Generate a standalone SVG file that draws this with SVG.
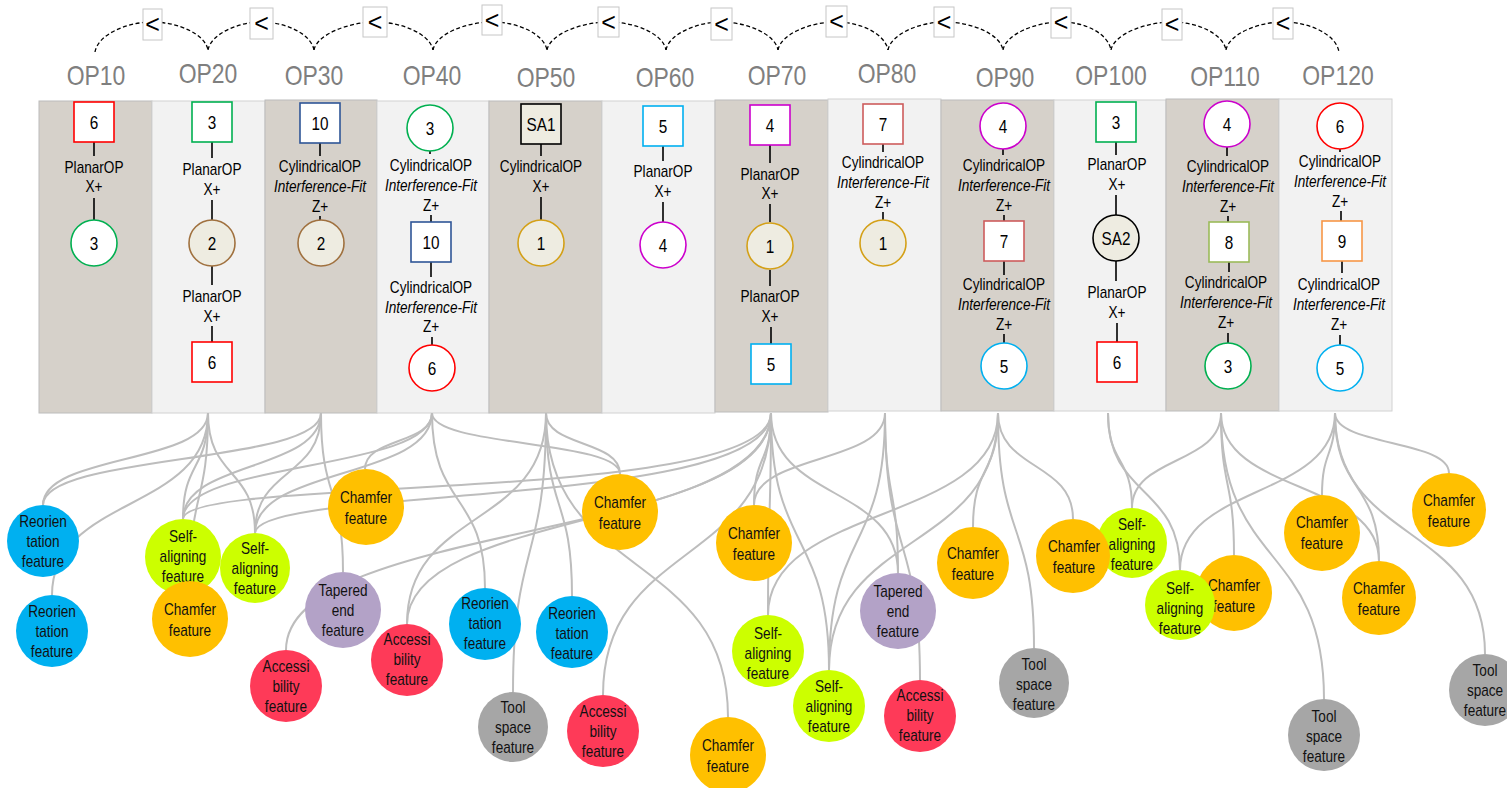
<svg xmlns="http://www.w3.org/2000/svg" width="1507" height="788" viewBox="0 0 1507 788">
<style>
text{font-family:"Liberation Sans",Arial,sans-serif;text-anchor:middle;fill:#000}
.op{font-size:28px;fill:#7f7f7f}
.t{font-size:16px}
.i{font-style:italic}
.n{font-size:18px}
.ft{font-size:16px;fill:#111}
.lt{font-size:25px}
.pt{fill:#d6d1ca;stroke:#bcbcbc;stroke-width:1}
.pl{fill:#f2f2f2;stroke:#d2d2d2;stroke-width:1}
.ln{stroke:#000;stroke-width:1.6;fill:none}
.arc{stroke:#000;stroke-width:1.3;stroke-dasharray:4 2.5;fill:none}
.cn{stroke:#bdbdbd;stroke-width:2;fill:none}
.bx{fill:#fff;stroke:#c6c6c6;stroke-width:1}
.nd{stroke-width:1.6}
.w{fill:#fff}
.cream{fill:#eeece1}
.fb{fill:#00b0f0}
.fl{fill:#ccff00}
.fo{fill:#ffc000}
.fp{fill:#b3a2c7}
.fr{fill:#fe3a58}
.fg{fill:#a6a6a6}
</style>

<g id="panels">
<rect class="pt" x="39" y="101" width="113" height="312"/>
<rect class="pl" x="152" y="101" width="113" height="312"/>
<rect class="pt" x="265" y="100" width="112" height="313"/>
<rect class="pl" x="377" y="101" width="112" height="312"/>
<rect class="pt" x="489" y="101" width="113" height="312"/>
<rect class="pl" x="602" y="101" width="113" height="312"/>
<rect class="pt" x="715" y="100" width="113" height="312"/>
<rect class="pl" x="828" y="99" width="113" height="312"/>
<rect class="pt" x="941" y="100" width="113" height="311"/>
<rect class="pl" x="1054" y="100" width="112" height="311"/>
<rect class="pt" x="1166" y="99" width="113" height="312"/>
<rect class="pl" x="1279" y="99" width="113" height="312"/>
</g>

<g id="connectors">
<path class="arc" d="M95 52 C98 34 128 22 152 22 C178 22 205 34 208 50"/>
<path class="arc" d="M208 50 C211 34 238 22 261 22 C286 22 311 34 314 50"/>
<path class="arc" d="M314 50 C317 34 350 22 375 22 C402 22 430 34 433 50"/>
<path class="arc" d="M433 50 C436 34 466 22 492 22 C518 22 544 34 547 50"/>
<path class="arc" d="M547 50 C550 34 582 22 608 22 C636 22 663 34 666 50"/>
<path class="arc" d="M666 50 C669 34 697 22 721 22 C747 22 775 34 778 50"/>
<path class="arc" d="M778 50 C781 34 810 22 836 22 C861 22 885 34 888 50"/>
<path class="arc" d="M888 50 C891 34 920 22 944 22 C972 22 1000 34 1003 50"/>
<path class="arc" d="M1003 50 C1006 34 1036 22 1061 22 C1086 22 1108 34 1111 50"/>
<path class="arc" d="M1111 50 C1114 34 1146 22 1172 22 C1198 22 1223 34 1226 50"/>
<path class="arc" d="M1226 50 C1229 34 1258 22 1283 22 C1309 22 1336 34 1339 52"/>
<path class="ln" d="M94 142V156M94 198V220"/>
<path class="ln" d="M212 142V158M212 200V220M212 266V285M212 326V342"/>
<path class="ln" d="M320 143V156M320 216V220"/>
<path class="ln" d="M430 151V154M431 215V222M431 262V277M432 337V345"/>
<path class="ln" d="M541 144V156M541 197V220"/>
<path class="ln" d="M663 146V161M663 202V222"/>
<path class="ln" d="M770 145V163M770 204V222M770 270V286M771 327V344"/>
<path class="ln" d="M883 144V152M883 212V220"/>
<path class="ln" d="M1003 149V155M1004 215V221M1004 261V275M1004 334V343"/>
<path class="ln" d="M1116 142V155M1116 195V215M1116 261V281M1117 323V342"/>
<path class="ln" d="M1227 147V156M1228 216V222M1229 262V272M1228 333V343"/>
<path class="ln" d="M1340 149V152M1341 211V221M1342 261V273M1340 335V345"/>
<path class="cn" d="M208 413C208 464 43 454 43 505"/>
<path class="cn" d="M208 413C208 513 52 495 52 595"/>
<path class="cn" d="M208 413C208 471 183 461 183 519"/>
<path class="cn" d="M208 413C208 479 255 467 255 533"/>
<path class="cn" d="M208 413C208 505 190 489 190 581"/>
<path class="cn" d="M321 413C321 464 43 454 43 505"/>
<path class="cn" d="M321 413C321 471 183 461 183 519"/>
<path class="cn" d="M321 413C321 479 255 467 255 533"/>
<path class="cn" d="M321 413C321 500 343 485 343 572"/>
<path class="cn" d="M432 413C432 444 365 438 365 469"/>
<path class="cn" d="M432 413C432 509 485 492 485 588"/>
<path class="cn" d="M432 413C432 447 620 440 620 474"/>
<path class="cn" d="M432 413C432 471 183 461 183 519"/>
<path class="cn" d="M432 413C432 479 255 467 255 533"/>
<path class="cn" d="M546 413C546 447 620 440 620 474"/>
<path class="cn" d="M546 413C546 514 572 495 572 596"/>
<path class="cn" d="M546 413C546 566 513 539 513 692"/>
<path class="cn" d="M546 413C546 580 728 550 728 717"/>
<path class="cn" d="M546 413C546 529 407 508 407 624"/>
<path class="cn" d="M771 413C771 464 754 454 754 505"/>
<path class="cn" d="M771 413C771 524 768 504 768 615"/>
<path class="cn" d="M771 413C771 554 829 529 829 670"/>
<path class="cn" d="M771 413C771 543 286 520 286 650"/>
<path class="cn" d="M771 413C771 529 407 508 407 624"/>
<path class="cn" d="M771 413C771 568 603 540 603 695"/>
<path class="cn" d="M771 413C771 505 183 475 183 519"/>
<path class="cn" d="M771 413C771 510 255 485 255 533"/>
<path class="cn" d="M771 413C771 501 898 485 898 573"/>
<path class="cn" d="M885 413C885 501 898 485 898 573"/>
<path class="cn" d="M885 413C885 560 920 533 920 680"/>
<path class="cn" d="M885 413C885 554 829 529 829 670"/>
<path class="cn" d="M885 413C885 464 754 454 754 505"/>
<path class="cn" d="M998 413C998 476 973 464 973 527"/>
<path class="cn" d="M998 413C998 471 1073 461 1073 519"/>
<path class="cn" d="M998 413C998 542 1034 519 1034 648"/>
<path class="cn" d="M998 413C998 524 768 504 768 615"/>
<path class="cn" d="M998 413C998 554 829 529 829 670"/>
<path class="cn" d="M1108 413C1108 499 1180 484 1180 570"/>
<path class="cn" d="M1108 413C1108 465 1132 456 1132 508"/>
<path class="cn" d="M1221 413C1221 465 1132 456 1132 508"/>
<path class="cn" d="M1221 413C1221 491 1234 477 1234 555"/>
<path class="cn" d="M1221 413C1221 570 1324 542 1324 699"/>
<path class="cn" d="M1221 413C1221 494 1379 480 1379 561"/>
<path class="cn" d="M1335 413C1335 458 1322 450 1322 495"/>
<path class="cn" d="M1335 413C1335 446 1449 440 1449 473"/>
<path class="cn" d="M1335 413C1335 546 1485 521 1485 654"/>
<path class="cn" d="M1335 413C1335 499 1180 484 1180 570"/>
<path class="cn" d="M1335 413C1335 494 1379 480 1379 561"/>
</g>

<g id="seq-labels">
<rect class="bx" x="143" y="9" width="19" height="31"/><text class="lt" x="152.5" y="33">&lt;</text>
<rect class="bx" x="250" y="8" width="23" height="31"/><text class="lt" x="261.5" y="32">&lt;</text>
<rect class="bx" x="363" y="7" width="24" height="30"/><text class="lt" x="375" y="31">&lt;</text>
<rect class="bx" x="482" y="5" width="20" height="30"/><text class="lt" x="492" y="29">&lt;</text>
<rect class="bx" x="598" y="7" width="21" height="30"/><text class="lt" x="608.5" y="31">&lt;</text>
<rect class="bx" x="711" y="8" width="21" height="32"/><text class="lt" x="721.5" y="33">&lt;</text>
<rect class="bx" x="826" y="6" width="21" height="31"/><text class="lt" x="836.5" y="30">&lt;</text>
<rect class="bx" x="934" y="7" width="20" height="30"/><text class="lt" x="944" y="31">&lt;</text>
<rect class="bx" x="1051" y="8" width="20" height="30"/><text class="lt" x="1061" y="31">&lt;</text>
<rect class="bx" x="1162" y="9" width="20" height="31"/><text class="lt" x="1172" y="33">&lt;</text>
<rect class="bx" x="1273" y="8" width="20" height="31"/><text class="lt" x="1283" y="32">&lt;</text>
</g>

<g id="OP10">
<text class="op" transform="translate(96 85) scale(0.82 1)">OP10</text>
<g id="op10-n1"><rect class="w nd" x="74" y="102" width="40" height="40" stroke="#ff0000"/><text class="n" transform="translate(94 128.5) scale(0.85 1)">6</text></g>
<text class="t" transform="translate(94 173) scale(0.85 1)"><tspan x="0">PlanarOP</tspan><tspan x="0" dy="19">X+</tspan></text>
<g id="op10-n2"><circle class="w nd" cx="94" cy="243" r="23" stroke="#00b050"/><text class="n" transform="translate(94 249.5) scale(0.85 1)">3</text></g>
</g>

<g id="OP20">
<text class="op" transform="translate(208 83) scale(0.82 1)">OP20</text>
<g id="op20-n1"><rect class="w nd" x="192" y="102" width="40" height="40" stroke="#00b050"/><text class="n" transform="translate(212 128.5) scale(0.85 1)">3</text></g>
<text class="t" transform="translate(212 175) scale(0.85 1)"><tspan x="0">PlanarOP</tspan><tspan x="0" dy="20">X+</tspan></text>
<g id="op20-n2"><circle class="cream nd" cx="212" cy="243" r="23" stroke="#a0713f"/><text class="n" transform="translate(212 249.5) scale(0.85 1)">2</text></g>
<text class="t" transform="translate(212 302) scale(0.85 1)"><tspan x="0">PlanarOP</tspan><tspan x="0" dy="20">X+</tspan></text>
<g id="op20-n3"><rect class="w nd" x="192" y="342" width="40" height="40" stroke="#ff0000"/><text class="n" transform="translate(212 368.5) scale(0.85 1)">6</text></g>
</g>

<g id="OP30">
<text class="op" transform="translate(314 85) scale(0.82 1)">OP30</text>
<g id="op30-n1"><rect class="w nd" x="300" y="103" width="40" height="40" stroke="#2f5597"/><text class="n" transform="translate(320 129.5) scale(0.85 1)">10</text></g>
<text class="t" transform="translate(320 172) scale(0.85 1)"><tspan x="0">CylindricalOP</tspan><tspan x="0" dy="20" class="i">Interference-Fit</tspan><tspan x="0" dy="20">Z+</tspan></text>
<g id="op30-n2"><circle class="cream nd" cx="321" cy="243" r="23" stroke="#a0713f"/><text class="n" transform="translate(321 249.5) scale(0.85 1)">2</text></g>
</g>

<g id="OP40">
<text class="op" transform="translate(432 85) scale(0.82 1)">OP40</text>
<g id="op40-n1"><circle class="w nd" cx="430" cy="128" r="23" stroke="#00b050"/><text class="n" transform="translate(430 134.5) scale(0.85 1)">3</text></g>
<text class="t" transform="translate(431 171) scale(0.85 1)"><tspan x="0">CylindricalOP</tspan><tspan x="0" dy="20" class="i">Interference-Fit</tspan><tspan x="0" dy="20">Z+</tspan></text>
<g id="op40-n2"><rect class="w nd" x="411" y="222" width="40" height="40" stroke="#2f5597"/><text class="n" transform="translate(431 248.5) scale(0.85 1)">10</text></g>
<text class="t" transform="translate(431 293) scale(0.85 1)"><tspan x="0">CylindricalOP</tspan><tspan x="0" dy="20" class="i">Interference-Fit</tspan><tspan x="0" dy="19">Z+</tspan></text>
<g id="op40-n3"><circle class="w nd" cx="432" cy="368" r="23" stroke="#ff0000"/><text class="n" transform="translate(432 374.5) scale(0.85 1)">6</text></g>
</g>

<g id="OP50">
<text class="op" transform="translate(546 87) scale(0.82 1)">OP50</text>
<g id="op50-n1"><rect class="cream nd" x="521" y="104" width="40" height="40" stroke="#000"/><text class="n" transform="translate(541 130.5) scale(0.85 1)">SA1</text></g>
<text class="t" transform="translate(541 172) scale(0.85 1)"><tspan x="0">CylindricalOP</tspan><tspan x="0" dy="20">X+</tspan></text>
<g id="op50-n2"><circle class="cream nd" cx="541" cy="243" r="23" stroke="#d4a017"/><text class="n" transform="translate(541 249.5) scale(0.85 1)">1</text></g>
</g>

<g id="OP60">
<text class="op" transform="translate(665 87) scale(0.82 1)">OP60</text>
<g id="op60-n1"><rect class="w nd" x="643" y="106" width="40" height="40" stroke="#00b0f0"/><text class="n" transform="translate(663 132.5) scale(0.85 1)">5</text></g>
<text class="t" transform="translate(663 177) scale(0.85 1)"><tspan x="0">PlanarOP</tspan><tspan x="0" dy="20">X+</tspan></text>
<g id="op60-n2"><circle class="w nd" cx="663" cy="245" r="23" stroke="#cc00cc"/><text class="n" transform="translate(663 251.5) scale(0.85 1)">4</text></g>
</g>

<g id="OP70">
<text class="op" transform="translate(777 85) scale(0.82 1)">OP70</text>
<g id="op70-n1"><rect class="w nd" x="750" y="105" width="40" height="40" stroke="#cc00cc"/><text class="n" transform="translate(770 131.5) scale(0.85 1)">4</text></g>
<text class="t" transform="translate(770 180) scale(0.85 1)"><tspan x="0">PlanarOP</tspan><tspan x="0" dy="19">X+</tspan></text>
<g id="op70-n2"><circle class="cream nd" cx="770" cy="246" r="23" stroke="#d4a017"/><text class="n" transform="translate(770 252.5) scale(0.85 1)">1</text></g>
<text class="t" transform="translate(770 302) scale(0.85 1)"><tspan x="0">PlanarOP</tspan><tspan x="0" dy="20">X+</tspan></text>
<g id="op70-n3"><rect class="w nd" x="751" y="344" width="40" height="40" stroke="#00b0f0"/><text class="n" transform="translate(771 370.5) scale(0.85 1)">5</text></g>
</g>

<g id="OP80">
<text class="op" transform="translate(887 83) scale(0.82 1)">OP80</text>
<g id="op80-n1"><rect class="w nd" x="863" y="104" width="40" height="40" stroke="#cd5c5c"/><text class="n" transform="translate(883 130.5) scale(0.85 1)">7</text></g>
<text class="t" transform="translate(883 168) scale(0.85 1)"><tspan x="0">CylindricalOP</tspan><tspan x="0" dy="20" class="i">Interference-Fit</tspan><tspan x="0" dy="20">Z+</tspan></text>
<g id="op80-n2"><circle class="cream nd" cx="883" cy="243" r="23" stroke="#d4a017"/><text class="n" transform="translate(883 249.5) scale(0.85 1)">1</text></g>
</g>

<g id="OP90">
<text class="op" transform="translate(1005 87) scale(0.82 1)">OP90</text>
<g id="op90-n1"><circle class="w nd" cx="1003" cy="126" r="23" stroke="#cc00cc"/><text class="n" transform="translate(1003 132.5) scale(0.85 1)">4</text></g>
<text class="t" transform="translate(1004 171) scale(0.85 1)"><tspan x="0">CylindricalOP</tspan><tspan x="0" dy="20" class="i">Interference-Fit</tspan><tspan x="0" dy="20">Z+</tspan></text>
<g id="op90-n2"><rect class="w nd" x="984" y="221" width="40" height="40" stroke="#cd5c5c"/><text class="n" transform="translate(1004 247.5) scale(0.85 1)">7</text></g>
<text class="t" transform="translate(1004 290) scale(0.85 1)"><tspan x="0">CylindricalOP</tspan><tspan x="0" dy="20" class="i">Interference-Fit</tspan><tspan x="0" dy="20">Z+</tspan></text>
<g id="op90-n3"><circle class="w nd" cx="1004" cy="366" r="23" stroke="#00b0f0"/><text class="n" transform="translate(1004 372.5) scale(0.85 1)">5</text></g>
</g>

<g id="OP100">
<text class="op" transform="translate(1111 85) scale(0.82 1)">OP100</text>
<g id="op100-n1"><rect class="w nd" x="1096" y="102" width="40" height="40" stroke="#00b050"/><text class="n" transform="translate(1116 128.5) scale(0.85 1)">3</text></g>
<text class="t" transform="translate(1117 170) scale(0.85 1)"><tspan x="0">PlanarOP</tspan><tspan x="0" dy="20">X+</tspan></text>
<g id="op100-n2"><circle class="cream nd" cx="1116" cy="238" r="23" stroke="#000"/><text class="n" transform="translate(1116 244.5) scale(0.85 1)">SA2</text></g>
<text class="t" transform="translate(1117 298) scale(0.85 1)"><tspan x="0">PlanarOP</tspan><tspan x="0" dy="20">X+</tspan></text>
<g id="op100-n3"><rect class="w nd" x="1097" y="342" width="40" height="40" stroke="#ff0000"/><text class="n" transform="translate(1117 368.5) scale(0.85 1)">6</text></g>
</g>

<g id="OP110">
<text class="op" transform="translate(1225 86) scale(0.82 1)">OP110</text>
<g id="op110-n1"><circle class="w nd" cx="1227" cy="124" r="23" stroke="#cc00cc"/><text class="n" transform="translate(1227 130.5) scale(0.85 1)">4</text></g>
<text class="t" transform="translate(1228 172) scale(0.85 1)"><tspan x="0">CylindricalOP</tspan><tspan x="0" dy="20" class="i">Interference-Fit</tspan><tspan x="0" dy="20">Z+</tspan></text>
<g id="op110-n2"><rect class="w nd" x="1209" y="222" width="40" height="40" stroke="#9bbb59"/><text class="n" transform="translate(1229 248.5) scale(0.85 1)">8</text></g>
<text class="t" transform="translate(1226 288) scale(0.85 1)"><tspan x="0">CylindricalOP</tspan><tspan x="0" dy="20" class="i">Interference-Fit</tspan><tspan x="0" dy="20">Z+</tspan></text>
<g id="op110-n3"><circle class="w nd" cx="1228" cy="366" r="23" stroke="#00b050"/><text class="n" transform="translate(1228 372.5) scale(0.85 1)">3</text></g>
</g>

<g id="OP120">
<text class="op" transform="translate(1338 85) scale(0.82 1)">OP120</text>
<g id="op120-n1"><circle class="w nd" cx="1340" cy="126" r="23" stroke="#ff0000"/><text class="n" transform="translate(1340 132.5) scale(0.85 1)">6</text></g>
<text class="t" transform="translate(1340 167) scale(0.85 1)"><tspan x="0">CylindricalOP</tspan><tspan x="0" dy="20" class="i">Interference-Fit</tspan><tspan x="0" dy="20">Z+</tspan></text>
<g id="op120-n2"><rect class="w nd" x="1322" y="221" width="40" height="40" stroke="#f79646"/><text class="n" transform="translate(1342 247.5) scale(0.85 1)">9</text></g>
<text class="t" transform="translate(1339 290) scale(0.85 1)"><tspan x="0">CylindricalOP</tspan><tspan x="0" dy="20" class="i">Interference-Fit</tspan><tspan x="0" dy="20">Z+</tspan></text>
<g id="op120-n3"><circle class="w nd" cx="1340" cy="368" r="23" stroke="#00b0f0"/><text class="n" transform="translate(1340 374.5) scale(0.85 1)">5</text></g>
</g>

<g id="f1"><circle class="fb" cx="43" cy="541" r="36"/><text class="ft" transform="translate(43 527) scale(0.85 1)"><tspan x="0">Reorien</tspan><tspan x="0" dy="20">tation</tspan><tspan x="0" dy="20">feature</tspan></text></g>
<g id="f2"><circle class="fb" cx="52" cy="631" r="36"/><text class="ft" transform="translate(52 617) scale(0.85 1)"><tspan x="0">Reorien</tspan><tspan x="0" dy="20">tation</tspan><tspan x="0" dy="20">feature</tspan></text></g>
<g id="f3"><circle class="fl" cx="183" cy="557" r="38"/><text class="ft" transform="translate(183 542) scale(0.85 1)"><tspan x="0">Self-</tspan><tspan x="0" dy="20">aligning</tspan><tspan x="0" dy="20">feature</tspan></text></g>
<g id="f4"><circle class="fo" cx="190" cy="619" r="38"/><text class="ft" transform="translate(190 615) scale(0.85 1)"><tspan x="0">Chamfer</tspan><tspan x="0" dy="21">feature</tspan></text></g>
<g id="f5"><circle class="fl" cx="255" cy="568" r="35"/><text class="ft" transform="translate(255 554) scale(0.85 1)"><tspan x="0">Self-</tspan><tspan x="0" dy="20">aligning</tspan><tspan x="0" dy="20">feature</tspan></text></g>
<g id="f6"><circle class="fo" cx="366" cy="507" r="38"/><text class="ft" transform="translate(366 503) scale(0.85 1)"><tspan x="0">Chamfer</tspan><tspan x="0" dy="21">feature</tspan></text></g>
<g id="f7"><circle class="fp" cx="343" cy="610" r="38"/><text class="ft" transform="translate(343 596) scale(0.85 1)"><tspan x="0">Tapered</tspan><tspan x="0" dy="20">end</tspan><tspan x="0" dy="20">feature</tspan></text></g>
<g id="f8"><circle class="fr" cx="286" cy="686" r="36"/><text class="ft" transform="translate(286 672) scale(0.85 1)"><tspan x="0">Accessi</tspan><tspan x="0" dy="20">bility</tspan><tspan x="0" dy="20">feature</tspan></text></g>
<g id="f9"><circle class="fr" cx="407" cy="660" r="36"/><text class="ft" transform="translate(407 645) scale(0.85 1)"><tspan x="0">Accessi</tspan><tspan x="0" dy="20">bility</tspan><tspan x="0" dy="20">feature</tspan></text></g>
<g id="f10"><circle class="fb" cx="485" cy="624" r="36"/><text class="ft" transform="translate(485 609) scale(0.85 1)"><tspan x="0">Reorien</tspan><tspan x="0" dy="20">tation</tspan><tspan x="0" dy="20">feature</tspan></text></g>
<g id="f11"><circle class="fo" cx="620" cy="512" r="38"/><text class="ft" transform="translate(620 508) scale(0.85 1)"><tspan x="0">Chamfer</tspan><tspan x="0" dy="21">feature</tspan></text></g>
<g id="f12"><circle class="fb" cx="572" cy="632" r="36"/><text class="ft" transform="translate(572 619) scale(0.85 1)"><tspan x="0">Reorien</tspan><tspan x="0" dy="20">tation</tspan><tspan x="0" dy="20">feature</tspan></text></g>
<g id="f13"><circle class="fg" cx="513" cy="727" r="35"/><text class="ft" transform="translate(513 713) scale(0.85 1)"><tspan x="0">Tool</tspan><tspan x="0" dy="20">space</tspan><tspan x="0" dy="20">feature</tspan></text></g>
<g id="f14"><circle class="fr" cx="603" cy="731" r="36"/><text class="ft" transform="translate(603 717) scale(0.85 1)"><tspan x="0">Accessi</tspan><tspan x="0" dy="20">bility</tspan><tspan x="0" dy="20">feature</tspan></text></g>
<g id="f15"><circle class="fo" cx="728" cy="755" r="38"/><text class="ft" transform="translate(728 751) scale(0.85 1)"><tspan x="0">Chamfer</tspan><tspan x="0" dy="21">feature</tspan></text></g>
<g id="f16"><circle class="fo" cx="754" cy="543" r="38"/><text class="ft" transform="translate(754 539) scale(0.85 1)"><tspan x="0">Chamfer</tspan><tspan x="0" dy="21">feature</tspan></text></g>
<g id="f17"><circle class="fl" cx="768" cy="651" r="36"/><text class="ft" transform="translate(768 639) scale(0.85 1)"><tspan x="0">Self-</tspan><tspan x="0" dy="20">aligning</tspan><tspan x="0" dy="20">feature</tspan></text></g>
<g id="f18"><circle class="fl" cx="829" cy="706" r="36"/><text class="ft" transform="translate(829 692) scale(0.85 1)"><tspan x="0">Self-</tspan><tspan x="0" dy="20">aligning</tspan><tspan x="0" dy="20">feature</tspan></text></g>
<g id="f19"><circle class="fp" cx="898" cy="611" r="38"/><text class="ft" transform="translate(898 597) scale(0.85 1)"><tspan x="0">Tapered</tspan><tspan x="0" dy="20">end</tspan><tspan x="0" dy="20">feature</tspan></text></g>
<g id="f20"><circle class="fr" cx="920" cy="716" r="36"/><text class="ft" transform="translate(920 701) scale(0.85 1)"><tspan x="0">Accessi</tspan><tspan x="0" dy="20">bility</tspan><tspan x="0" dy="20">feature</tspan></text></g>
<g id="f21"><circle class="fo" cx="973" cy="563" r="36"/><text class="ft" transform="translate(973 559) scale(0.85 1)"><tspan x="0">Chamfer</tspan><tspan x="0" dy="21">feature</tspan></text></g>
<g id="f23"><circle class="fl" cx="1132" cy="543" r="35"/><text class="ft" transform="translate(1132 530) scale(0.85 1)"><tspan x="0">Self-</tspan><tspan x="0" dy="20">aligning</tspan><tspan x="0" dy="20">feature</tspan></text></g>
<g id="f22"><circle class="fo" cx="1073" cy="556" r="37"/><text class="ft" transform="translate(1074 552) scale(0.85 1)"><tspan x="0">Chamfer</tspan><tspan x="0" dy="21">feature</tspan></text></g>
<g id="f24"><circle class="fg" cx="1034" cy="683" r="35"/><text class="ft" transform="translate(1034 670) scale(0.85 1)"><tspan x="0">Tool</tspan><tspan x="0" dy="20">space</tspan><tspan x="0" dy="20">feature</tspan></text></g>
<g id="f26"><circle class="fo" cx="1234" cy="593" r="38"/><text class="ft" transform="translate(1234 591) scale(0.85 1)"><tspan x="0">Chamfer</tspan><tspan x="0" dy="21">feature</tspan></text></g>
<g id="f25"><circle class="fl" cx="1180" cy="605" r="35"/><text class="ft" transform="translate(1180 594) scale(0.85 1)"><tspan x="0">Self-</tspan><tspan x="0" dy="20">aligning</tspan><tspan x="0" dy="20">feature</tspan></text></g>
<g id="f27"><circle class="fo" cx="1322" cy="533" r="38"/><text class="ft" transform="translate(1322 528) scale(0.85 1)"><tspan x="0">Chamfer</tspan><tspan x="0" dy="21">feature</tspan></text></g>
<g id="f28"><circle class="fo" cx="1379" cy="598" r="37"/><text class="ft" transform="translate(1379 594) scale(0.85 1)"><tspan x="0">Chamfer</tspan><tspan x="0" dy="21">feature</tspan></text></g>
<g id="f29"><circle class="fo" cx="1449" cy="510" r="37"/><text class="ft" transform="translate(1449 506) scale(0.85 1)"><tspan x="0">Chamfer</tspan><tspan x="0" dy="21">feature</tspan></text></g>
<g id="f30"><circle class="fg" cx="1324" cy="735" r="36"/><text class="ft" transform="translate(1324 722) scale(0.85 1)"><tspan x="0">Tool</tspan><tspan x="0" dy="20">space</tspan><tspan x="0" dy="20">feature</tspan></text></g>
<g id="f31"><circle class="fg" cx="1485" cy="690" r="36"/><text class="ft" transform="translate(1485 676) scale(0.85 1)"><tspan x="0">Tool</tspan><tspan x="0" dy="20">space</tspan><tspan x="0" dy="20">feature</tspan></text></g>
</svg>
